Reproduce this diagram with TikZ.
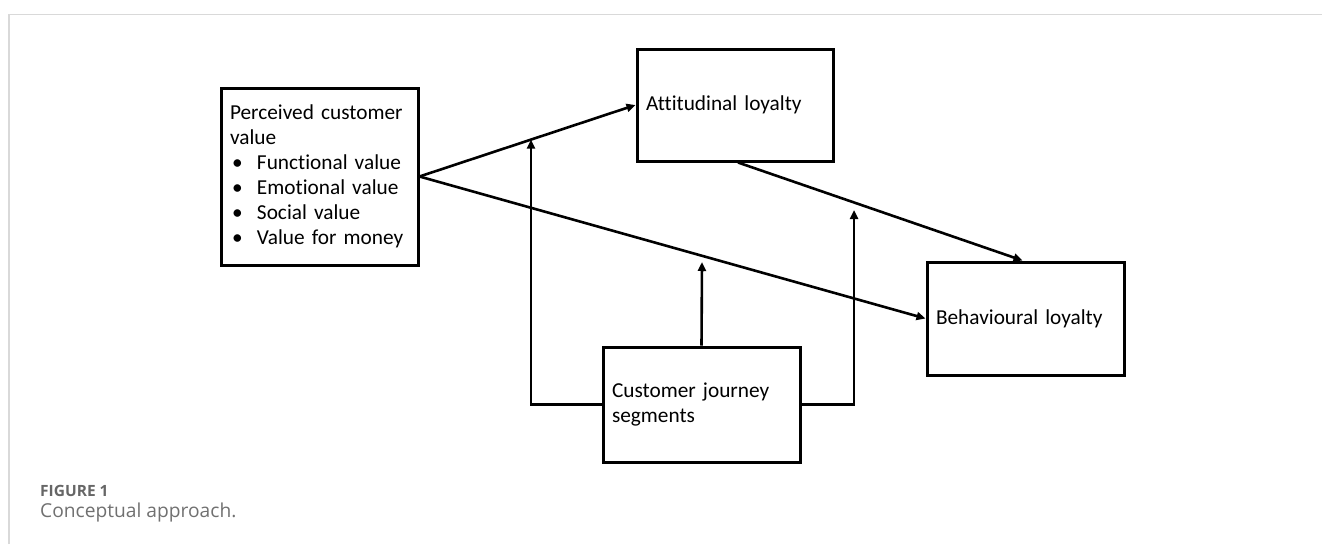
\documentclass[tikz,border=0pt]{standalone}
\usepackage{fontspec}
\setmainfont{Carlito}[Ligatures=NoCommon, WordSpace=0.6]
\newfontfamily\capfont{Open Sans}
\usetikzlibrary{arrows.meta,calc}
\definecolor{framegray}{HTML}{D9D9D9}
\definecolor{capgray}{HTML}{707070}
\definecolor{labgray}{HTML}{666666}
\begin{document}
\begin{tikzpicture}[x=1pt,y=-1pt,
  box/.style={draw, line width=3pt, rectangle, inner xsep=9pt, inner ysep=0pt,
    align=left, font=\fontsize{21.3}{25}\selectfont},
  conn/.style={line width=2.6pt, -{Triangle[length=9pt,width=8pt]}},
  caplab/.style={anchor=base west, inner sep=0pt, text=labgray, font=\capfont\bfseries\fontsize{15.5}{18}\selectfont},
  captext/.style={anchor=base west, inner sep=0pt, text=capgray, font=\capfont\fontsize{19.2}{22}\selectfont}]
\useasboundingbox (0,0) rectangle (1322,544);
\draw[framegray, line width=1.5pt] (9,544) -- (9,14.5) -- (1322,14.5);

\newcommand{\bulitem}[1]{\makebox[27pt][l]{\hspace{2pt}\textbullet}#1}

\node[box, minimum width=197pt, minimum height=177pt, text width=179pt] (pcv) at (319.5,176.5)
  {Perceived customer\\value\\\bulitem{Functional value}\\\bulitem{Emotional value}\\\bulitem{Social value}\\\bulitem{Value for money}};
\node[box, minimum width=196pt, minimum height=112pt, text width=178pt] (att) at (735,105)
  {Attitudinal loyalty};
\node[box, minimum width=197pt, minimum height=113pt, text width=179pt] (beh) at (1025.5,318.5)
  {Behavioural loyalty};
\node[box, minimum width=197pt, minimum height=115pt, text width=179pt] (cjs) at (701.5,404.5)
  {Customer journey\\segments};

\coordinate (m1) at ($(pcv.east)!0.516!(att.west)$);
\coordinate (m2) at (854,210);
\coordinate (m3) at (702,262);

\draw[conn] (pcv.east) -- (att.west);
\draw[conn] (pcv.east) -- (beh.west);
\draw[conn] ($(att.south)+(3,0)$) -- ($(beh.north)+(-3,0)$);
\draw[conn] (cjs.west) -| (m1);
\draw[conn] (cjs.east) -| (m2);
\draw[conn] (cjs.north) -- (m3);

\node[caplab] (figlab) at (40,496) {FIGURE 1};
\node[captext] (figcap) at (40,517) {Conceptual approach.};
\end{tikzpicture}
\end{document}
